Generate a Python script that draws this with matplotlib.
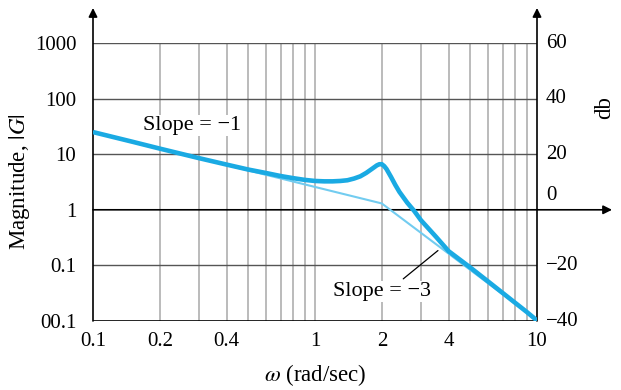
import matplotlib
matplotlib.use("Agg")
import matplotlib.pyplot as plt
import matplotlib.transforms as mtransforms

plt.rcParams['font.family'] = ['Liberation Serif', 'DejaVu Serif']
plt.rcParams['mathtext.fontset'] = 'stix'

# ---- data ----
omega = [0.1, 0.15, 0.2, 0.3, 0.4, 0.5, 0.6, 0.7, 0.8, 0.9, 1.0, 1.1, 1.2, 1.3,
         1.4, 1.5, 1.6, 1.7, 1.8, 1.9, 1.95, 2.0, 2.05, 2.1, 2.2, 2.3, 2.4, 2.6,
         2.8, 3.0, 3.5, 4.0, 5.0, 6.0, 7.0, 8.0, 9.0, 10.0]
mag = [25, 16.8, 12.6, 8.5, 6.5, 5.3, 4.6, 4.05, 3.7, 3.45, 3.3, 3.25, 3.25, 3.3,
       3.4, 3.65, 4.0, 4.6, 5.4, 6.3, 6.6, 6.6, 6.1, 5.4, 3.9, 2.8, 2.1, 1.35,
       0.95, 0.65, 0.33, 0.18, 0.092, 0.052, 0.032, 0.021, 0.0145, 0.0102]
asym_omega = [0.1, 2.0, 10.0]
asym_mag = [25, 1.3, 0.0104]

mag_ticks = [1000, 100, 10, 1, 0.1, 0.01]
mag_labels = ['1000', '100', '10', '1', '0.1', '00.1']
db_ticks = [60, 40, 20, 0, -20, -40]
db_labels = ['60', '40', '20', '0', '\u221220', '\u221240']
w_ticks = [0.1, 0.2, 0.4, 1, 2, 4, 10]
w_labels = ['0.1', '0.2', '0.4', '1', '2', '4', '10']
w_grid = [0.2, 0.3, 0.4, 0.5, 0.6, 0.7, 0.8, 0.9, 1, 2, 3, 4, 5, 6, 7, 8, 9]

FS = 15
FSA = 16
FSL = 16.5
fig = plt.figure(figsize=(6.21, 3.90), dpi=100)
ax = fig.add_axes([93/621, 69/390, 444/621, 278/390])
ax.set_xscale('log')
ax.set_yscale('log')
ax.set_xlim(0.1, 10)
ax.set_ylim(0.01, 1000)
for s in ax.spines.values():
    s.set_visible(False)

# grid
ax.vlines(w_grid, 0.01, 1000, colors='#a8a8a8', lw=1.1, zorder=1)
for v in [1000, 100, 10, 0.1]:
    ax.axhline(v, color='#555555', lw=1.0, zorder=1.5)
ax.axhline(0.01, color='black', lw=1.2, zorder=2)

# axes arrows
ap = dict(arrowstyle='-|>', mutation_scale=13, lw=1.2, color='black',
          shrinkA=0, shrinkB=0)
ax.annotate('', xy=(0, 1.126), xytext=(0, 0), xycoords='axes fraction',
            textcoords='axes fraction', arrowprops=ap, annotation_clip=False)
ax.annotate('', xy=(1, 1.126), xytext=(1, 0), xycoords='axes fraction',
            textcoords='axes fraction', arrowprops=ap, annotation_clip=False)
ax.annotate('', xy=(1.169, 0.4), xytext=(0, 0.4), xycoords='axes fraction',
            textcoords='axes fraction', arrowprops=ap, annotation_clip=False)

# curves
ax.plot(asym_omega, asym_mag, color='#72ccf0', lw=1.5, zorder=3)
ax.plot(omega, mag, color='#1aaae3', lw=3.3, zorder=4, solid_capstyle='butt')

# ticks
ax.set_xticks(w_ticks)
ax.set_xticklabels(w_labels, fontsize=FS)
ax.xaxis.set_minor_locator(matplotlib.ticker.NullLocator())
ax.set_yticks(mag_ticks)
ax.set_yticklabels(mag_labels, fontsize=FS)
ax.yaxis.set_minor_locator(matplotlib.ticker.NullLocator())
ax.tick_params(length=0)
ax.tick_params(axis='x', pad=8)
ax.tick_params(axis='y', pad=12)

# right dB labels
trans = mtransforms.blended_transform_factory(ax.transAxes, ax.transData)
for d, lab in zip(db_ticks, db_labels):
    yv = 10 ** (d / 20)
    off = 14 if d == 0 else 0
    ax.annotate(lab, xy=(1, yv), xycoords=trans, xytext=(9, off),
                textcoords='offset pixels', ha='left', va='center',
                fontsize=FS, annotation_clip=False)

ax.set_ylabel('Magnitude, $|G|$', fontsize=FSL, labelpad=2)
ax.set_xlabel(r'$\omega$ (rad/sec)', fontsize=FSL, labelpad=8)
fig.text(605/621, 1 - 108/390, 'db', rotation=90, ha='center', va='center',
         fontsize=FSL)

# annotations
ax.text(0.168, 33, 'Slope = \u22121', fontsize=FSA, ha='left', va='center',
        zorder=3.5, bbox=dict(facecolor='white', edgecolor='none', pad=1))
ax.annotate('Slope = \u22123', xy=(3.58, 0.185), xytext=(2.0, 0.034),
            fontsize=FSA, ha='center', va='center', zorder=3.5,
            bbox=dict(facecolor='white', edgecolor='none', pad=1),
            arrowprops=dict(arrowstyle='-', color='black', lw=0.9,
                            shrinkA=2, shrinkB=0,
                            relpos=(0.68, 1.0)))

fig.savefig('out.png', dpi=100)
